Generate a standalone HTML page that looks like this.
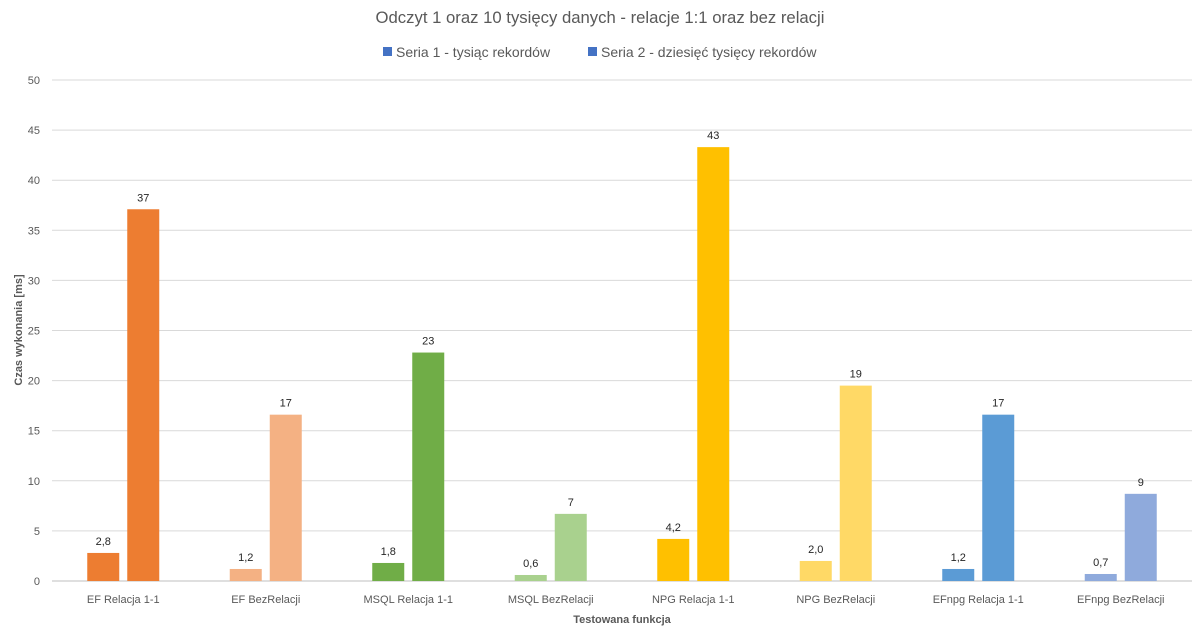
<!DOCTYPE html>
<html><head><meta charset="utf-8"><style>
body{margin:0;background:#fff;font-family:"Liberation Sans",sans-serif}
</style></head><body>
<svg id="chart" width="1199" height="638" xmlns="http://www.w3.org/2000/svg">
<text x="600" y="23" text-anchor="middle" font-size="16.7" fill="#595959">Odczyt 1 oraz 10 tysięcy danych - relacje 1:1 oraz bez relacji</text>
<g>
<rect x="383" y="47" width="9" height="9" fill="#4472C4"/>
<text x="396" y="57" font-size="14" fill="#595959">Seria 1 - tysiąc rekordów</text>
<rect x="588" y="47" width="9" height="9" fill="#4472C4"/>
<text x="601" y="57" font-size="14" fill="#595959">Seria 2 - dziesięć tysięcy rekordów</text>
</g>
<text transform="translate(22,330) rotate(-90)" text-anchor="middle" font-size="11" font-weight="bold" fill="#595959">Czas wykonania [ms]</text>
<text x="622" y="623" text-anchor="middle" font-size="11" font-weight="bold" fill="#595959">Testowana funkcja</text>
<g id="grid"></g><g id="bars"></g>
</svg>
<script>
const categories=["EF Relacja 1-1","EF BezRelacji","MSQL Relacja 1-1","MSQL BezRelacji","NPG Relacja 1-1","NPG BezRelacji","EFnpg Relacja 1-1","EFnpg BezRelacji"];
const series1=[2.8,1.2,1.8,0.6,4.2,2.0,1.2,0.7];
const series1Labels=["2,8","1,2","1,8","0,6","4,2","2,0","1,2","0,7"];
const series2=[37.1,16.6,22.8,6.7,43.3,19.5,16.6,8.7];
const series2Labels=["37","17","23","7","43","19","17","9"];
const yTicks=[0,5,10,15,20,25,30,35,40,45,50];
const colors1=["#ED7D31","#F4B183","#70AD47","#A9D18E","#FFC000","#FFD966","#5B9BD5","#8FAADC"];
const colors2=["#ED7D31","#F4B183","#70AD47","#A9D18E","#FFC000","#FFD966","#5B9BD5","#8FAADC"];
const NS="http://www.w3.org/2000/svg";
const x0=52,x1=1192,y0=581,y1=80;
const y=v=>y0-(v/50)*(y0-y1);
const band=(x1-x0)/categories.length;
const cx=i=>x0+band*(i+0.5);
function mk(tag,attrs,parent){const e=document.createElementNS(NS,tag);for(const k in attrs)e.setAttribute(k,attrs[k]);parent.appendChild(e);return e;}
const grid=document.getElementById('grid'),bars=document.getElementById('bars');
yTicks.forEach(t=>{
 const l=mk('line',{x1:x0,x2:x1,y1:y(t),y2:y(t),stroke:t===0?'#bfbfbf':'#d9d9d9','stroke-width':1},grid);
 
 
 const tx=mk('text',{x:40,y:y(t)+4,'text-anchor':'end','font-size':11,fill:'#595959'},grid);
 tx.textContent=t;
 
 
});
categories.forEach((c,i)=>{
 const w=32;
 [[series1,series1Labels,colors1,-20,'series-1'],[series2,series2Labels,colors2,20,'series-2']].forEach(([s,lb,col,off,nm])=>{
  const r=mk('rect',{x:cx(i)+off-w/2,y:y(s[i]),width:w,height:y0-y(s[i]),fill:col[i]},bars);
  
  
  const t=mk('text',{x:cx(i)+off,y:y(s[i])-8,'text-anchor':'middle','font-size':11,fill:'#262626'},bars);
  t.textContent=lb[i];
  
  
 });
 const t=mk('text',{x:cx(i),y:603,'text-anchor':'middle','font-size':11,fill:'#595959'},bars);
 t.textContent=c;
 
 
});
</script>
</body></html>
